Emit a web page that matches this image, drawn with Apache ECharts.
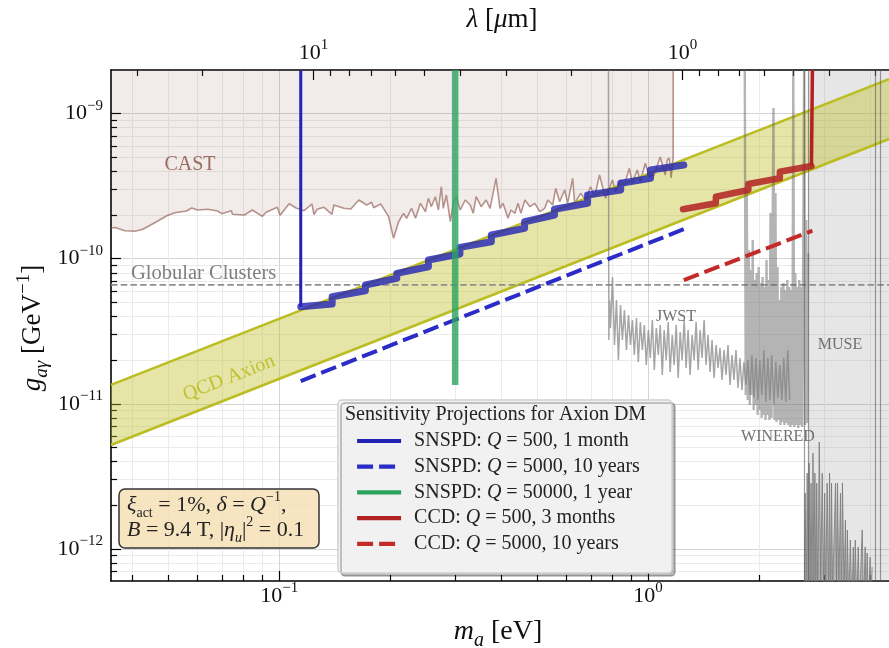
<!DOCTYPE html>
<html>
<head>
<meta charset="utf-8">
<script src="https://cdn.jsdelivr.net/npm/echarts@6.0.0/dist/echarts.min.js"></script>
<style>
html,body{margin:0;padding:0;background:#ffffff;}
#chart{width:889px;height:648px;}
</style>
</head>
<body>
<div id="chart"></div>
<script>
// ---------------- data ----------------
// masses m_a in eV, couplings g in units of 1e-10 GeV^-1 unless noted
const HC = 1.2398;               // eV * um, lambda = HC / m_a
const X_MIN = 0.035, X_MAX = 4.5;
const Y_MIN = 6e-13, Y_MAX = 2e-9;
const G_UNIT = 1e-10;

const xMajorTicks = [0.1, 1];
const xMinorTicks = [0.04, 0.05, 0.06, 0.07, 0.08, 0.09, 0.2, 0.3, 0.4, 0.5, 0.6, 0.7, 0.8, 0.9, 2, 3, 4];
const yMajorTicks = [1e-12, 1e-11, 1e-10, 1e-9];
const yMinorTicks = [7e-13, 8e-13, 9e-13, 2e-12, 3e-12, 4e-12, 5e-12, 6e-12, 7e-12, 8e-12, 9e-12,
  2e-11, 3e-11, 4e-11, 5e-11, 6e-11, 7e-11, 8e-11, 9e-11, 2e-10, 3e-10, 4e-10, 5e-10, 6e-10, 7e-10, 8e-10, 9e-10];
const lamMajorTicks = [1, 10];
const lamMinorTicks = [0.3, 0.4, 0.5, 0.6, 0.7, 0.8, 0.9, 2, 3, 4, 5, 6, 7, 8, 9, 20, 30];

// CAST helioscope limit
const castM = [0.035,0.0359,0.0382,0.0406,0.0427,0.0460,0.0496,0.0521,0.0561,0.0579,0.0601,0.0640,0.0681,0.0698,0.0742,0.0747,0.0805,0.0846,0.0900,0.0922,0.0988,0.1006,0.1064,0.1111,0.1168,0.1227,0.1243,0.1266,0.1323,0.139,0.1407,0.1497,0.1564,0.1644,0.1727,0.1781,0.1803,0.1884,0.1956,0.198,0.2042,0.2107,0.2174,0.2214,0.2285,0.2342,0.2415,0.2491,0.2538,0.2586,0.2651,0.2701,0.2752,0.2786,0.2839,0.2911,0.2965,0.302,0.3096,0.3194,0.3295,0.3357,0.342,0.3528,0.3639,0.3731,0.3872,0.3969,0.4044,0.4171,0.425,0.4357,0.4439,0.4522,0.4636,0.4783,0.4933,0.5088,0.5249,0.5348,0.5515,0.5619,0.576,0.5943,0.6055,0.6246,0.6324,0.6564,0.677,0.6985,0.7161,0.7387,0.7526,0.7668,0.7861,0.8009,0.8159,0.8414,0.8626,0.8898,0.9066,0.9352,0.9528,0.983,1.0075,1.039,1.079,1.113,1.127,1.141,1.155,1.17,1.17];
const castG = [1.63,1.64,1.56,1.545,1.595,1.771,1.979,2.075,2.133,2.236,2.167,2.191,2.133,2.043,2.143,2.024,2.001,2.167,1.96,2.089,2.262,1.992,2.394,2.236,2.143,2.383,2.011,2.191,2.262,2.024,2.346,2.226,2.201,2.54,2.346,2.448,2.247,2.383,2.056,1.948,1.382,1.799,2.056,1.899,2.226,1.899,2.41,2.109,2.609,2.283,2.676,2.167,3.136,2.226,2.749,1.799,2.41,2.676,2.167,2.54,2.346,2.056,2.676,2.283,2.54,2.226,3.584,2.226,2.41,1.899,2.167,2.056,2.41,2.056,2.54,2.283,2.41,2.109,2.226,2.54,2.346,3.058,2.472,2.976,2.41,3.584,2.41,2.824,2.54,3.136,2.676,3.776,3.136,2.609,3.058,3.488,2.897,3.488,3.222,4.2,3.311,4.088,3.395,4.55,3.675,3.776,5.02,3.776,4.79,4.945,3.6,5.0,20];

// QCD axion band (GeV^-1)
const qcdM = [0.035, 4.5];
const qcdUpper = [1.35e-11, 1.73e-9];
const qcdLower = [5.2e-12, 6.69e-10];

// Globular clusters bound (GeV^-1)
const gcM = [0.035, 4.5];
const gcG = 6.6e-11;

// JWST
const jwstM = [0.781,0.783,0.786,0.791,0.801,0.811,0.821,0.831,0.842,0.852,0.863,0.874,0.885,0.896,0.907,0.918,0.930,0.941,0.953,0.965,0.977,0.989,1.002,1.014,1.027,1.040,1.053,1.066,1.079,1.093,1.106,1.120,1.134,1.148,1.163,1.177,1.192,1.207,1.222,1.237,1.253,1.268,1.284,1.300,1.317,1.333,1.350,1.367,1.384,1.401,1.419,1.436,1.454,1.473,1.491,1.510,1.529,1.548,1.567,1.587,1.607,1.627,1.647,1.668,1.689,1.710,1.731,1.753,1.775,1.797,1.819,1.842,1.865,1.888,1.912,1.936,1.960,1.985,2.009,2.035,2.060,2.086,2.112,2.139,2.165,2.193,2.220,2.248,2.276,2.305,2.333,2.363,2.392,2.422];
const jwstG = [20,0.275,0.519,0.333,0.748,0.254,0.519,0.200,0.4795,0.275,0.443,0.2348,0.409,0.254,0.378,0.217,0.390,0.194,0.366,0.2348,0.349,0.185,0.3225,0.2067,0.378,0.1709,0.333,0.217,0.349,0.158,0.3225,0.200,0.366,0.1655,0.298,0.185,0.349,0.1505,0.312,0.200,0.378,0.1764,0.3225,0.158,0.298,0.200,0.366,0.1709,0.3225,0.2067,0.378,0.185,0.298,0.1655,0.275,0.1505,0.254,0.1764,0.242,0.1458,0.2348,0.158,0.254,0.1347,0.217,0.1458,0.2348,0.1284,0.2067,0.1244,0.194,0.1347,0.200,0.1149,0.217,0.1096,0.2067,0.1061,0.200,0.1149,0.2348,0.1028,0.2067,0.1061,0.217,0.098,0.194,0.1096,0.185,0.1061,0.2067,0.1028,0.2348,0.1061];

// WINERED
const wineredM = [1.829,1.840,1.852,1.863,1.875,1.887,1.898,1.910,1.922,1.934,1.946,1.958,1.970,1.982,1.994,2.007,2.019,2.032,2.044,2.057,2.070,2.082,2.095,2.108,2.121,2.134,2.148,2.161,2.174,2.188,2.202,2.215,2.229,2.243,2.257,2.271,2.285,2.299,2.313,2.328,2.342,2.357,2.371,2.386,2.401,2.416,2.430,2.446,2.461,2.476,2.491,2.507,2.522,2.538,2.554,2.569,2.585,2.601,2.617,2.633,2.650,2.666,2.683,2.699,2.716];
const wineredG = [20,0.1149,2.98,0.1061,1.148,0.098,0.836,0.1149,1.346,0.0906,0.713,0.098,0.797,0.0837,0.877,0.0906,0.680,0.0797,0.748,0.0837,0.638,0.0773,0.98,0.0837,0.713,0.0773,2.066,0.0797,1.095,10.92,0.0773,2.838,0.0748,0.877,0.0773,0.519,0.0714,0.638,0.0748,0.680,0.0714,0.608,0.0737,0.713,0.0714,0.638,0.0691,0.608,0.0714,20,0.0691,0.797,0.0714,0.638,0.068,0.713,0.0714,0.638,0.0691,0.98,20,0.0714,1.85,0.0737,1.095];

// MUSE
const museBand = [2.72, 4.5];
const museEdges = [2.65, 2.72, 4.13, 4.26];
const museM = [2.650,2.667,2.683,2.700,2.717,2.733,2.750,2.766,2.783,2.800,2.816,2.833,2.850,2.867,2.885,2.912,2.939,2.966,2.994,3.012,3.030,3.058,3.087,3.105,3.125,3.144,3.164,3.19,3.223,3.243,3.263,3.29,3.324,3.345,3.365,3.40,3.428,3.45,3.470,3.50,3.535,3.57,3.602,3.62,3.646,3.68,3.714,3.74,3.807,3.84,3.878,3.90,3.926,3.96,4.000,4.02,4.049];
const museG = [0.003,0.0242,0.004,0.0333,0.005,0.039,0.006,0.0284,0.004,0.0457,0.006,0.0333,0.005,0.0284,0.004,0.0545,0.006,0.0333,0.005,0.0242,0.004,0.0284,0.005,0.0333,0.004,0.0284,0.005,0.005,0.0284,0.006,0.0284,0.005,0.0242,0.004,0.0284,0.005,0.0158,0.004,0.01348,0.004,0.0115,0.004,0.0103,0.004,0.0115,0.004,0.0103,0.004,0.01348,0.004,0.0103,0.004,0.00935,0.004,0.00878,0.004,0.0075];

// Sensitivity projections
const snspd1M = [0.1144,0.1144,0.1392,0.1392,0.1713,0.1713,0.2084,0.2084,0.2538,0.2538,0.309,0.309,0.376,0.376,0.4627,0.4627,0.5575,0.5575,0.6855,0.6855,0.843,0.843,1.0155,1.0155,1.25];
const snspd1G = [20,0.4667,0.4871,0.547,0.6016,0.659,0.7326,0.7932,0.8807,0.9795,1.077,1.198,1.31,1.457,1.62,1.799,2.001,2.191,2.41,2.749,2.976,3.311,3.584,4.088,4.426];
const snspd2M = [0.1144, 1.252];
const snspd2G = [0.1435, 1.602];
const snspd3M = [0.3, 0.3];
const snspd3G = [20, 0.1347];
const ccd1M = [1.244,1.527,1.527,1.871,1.871,2.277,2.277,2.773,2.79,2.79];
const ccd1G = [2.191,2.41,2.676,2.976,3.273,3.584,3.98,4.356,4.356,20];
const ccd2M = [1.25, 2.79];
const ccd2G = [0.713, 1.56];

const NAMES = ['SNSPD: Q = 500, 1 month', 'SNSPD: Q = 5000, 10 years', 'SNSPD: Q = 50000, 1 year',
  'CCD: Q = 500, 3 months', 'CCD: Q = 5000, 10 years'];

// ---------------- helpers ----------------
const FONT = '"Liberation Serif", "DejaVu Serif", serif';
function pts(ms, gs, unit) { const n = Math.min(ms.length, gs.length); const out = []; for (let i = 0; i < n; i++) out.push([ms[i], gs[i] * unit]); return out; }
function expLabel(v) { const e = Math.round(Math.log10(v)); return '{b|10}{s|' + (e < 0 ? '\u2212' + (-e) : String(e)) + '}'; }
const tickRich = {
  b: {fontFamily: FONT, fontSize: 22, color: '#111', lineHeight: 30},
  s: {fontFamily: FONT, fontSize: 15, color: '#111', verticalAlign: 'top'}
};
function gRich(size, small, color) {
  const lh = Math.round(size * 1.35);
  return {
    n: {fontFamily: FONT, fontSize: size, fill: color, lineHeight: lh},
    i: {fontFamily: FONT, fontSize: size, fill: color, lineHeight: lh, fontStyle: 'italic'},
    sub: {fontFamily: FONT, fontSize: small, fill: color, verticalAlign: 'bottom'},
    subi: {fontFamily: FONT, fontSize: small, fill: color, verticalAlign: 'bottom', fontStyle: 'italic'},
    sup: {fontFamily: FONT, fontSize: small, fill: color, verticalAlign: 'top'}
  };
}
function gText(x, y, text, opts) {
  return Object.assign({type: 'text', x: x, y: y, silent: true, z: 25,
    style: Object.assign({text: text, fontFamily: FONT, fontSize: 19, fill: '#222', align: 'center', verticalAlign: 'middle'}, opts.style || {})},
    opts.el || {});
}
function logAxisX(extra) {
  return Object.assign({type: 'log', min: X_MIN, max: X_MAX, logBase: 10, axisPointer: {show: false}}, extra);
}

const chart = echarts.init(document.getElementById('chart'), null, {renderer: 'canvas'});

const lineBase = {type: 'line', symbol: 'none', silent: true, xAxisIndex: 0, yAxisIndex: 0, animation: false, clip: true};
function lineSeries(name, data, style, extra) {
  return Object.assign({}, lineBase, {name: name, data: data, lineStyle: style}, extra || {});
}

const series = [
  lineSeries('CAST', pts(castM, castG, G_UNIT), {color: 'rgba(140,86,75,0.62)', width: 1.6},
    {areaStyle: {origin: 'end', color: 'rgba(140,86,75,0.17)'}, z: 1}),
  {type: 'custom', name: 'QCD band', silent: true, xAxisIndex: 0, yAxisIndex: 0, z: 1, clip: true,
    data: [[1, 1e-10]],
    renderItem: function (params, api) {
      const p = [];
      for (let i = 0; i < qcdM.length; i++) p.push(api.coord([qcdM[i], qcdUpper[i]]));
      for (let i = qcdM.length - 1; i >= 0; i--) p.push(api.coord([qcdM[i], qcdLower[i]]));
      return {type: 'polygon', shape: {points: p}, style: {fill: 'rgba(188,189,34,0.4)'}};
    }},
  lineSeries('QCD upper', pts(qcdM, qcdUpper, 1), {color: '#bcbd22', width: 2.6}, {z: 2}),
  lineSeries('QCD lower', pts(qcdM, qcdLower, 1), {color: '#bcbd22', width: 2.6}, {z: 2}),
  lineSeries('Globular Clusters', gcM.map(m => [m, gcG]), {color: '#8f8f8f', width: 1.6, type: [6.5, 3.2]}, {z: 2}),
  lineSeries('MUSE', pts(museM, museG, G_UNIT), {color: 'rgba(120,120,120,0.8)', width: 1},
    {areaStyle: {origin: 'start', color: 'rgba(120,120,120,0.65)'}, z: 2,
     markArea: {silent: true, itemStyle: {color: 'rgba(128,128,128,0.2)'},
       data: [[{xAxis: museBand[0], yAxis: Y_MIN}, {xAxis: museBand[1], yAxis: Y_MAX}]]},
     markLine: {silent: true, symbol: ['none', 'none'], label: {show: false},
       lineStyle: {color: 'rgba(90,90,90,0.6)', width: 1.2, type: 'solid'},
       data: museEdges.map(v => ({xAxis: v}))}}),
  lineSeries('WINERED', pts(wineredM, wineredG, G_UNIT), {color: 'rgba(105,105,105,0.5)', width: 2.4}, {z: 2}),
  lineSeries('JWST', pts(jwstM, jwstG, G_UNIT), {color: 'rgba(128,128,128,0.7)', width: 1.5}, {z: 2}),
  lineSeries(NAMES[0], pts(snspd1M.slice(0, 2), snspd1G.slice(0, 2), G_UNIT), {color: '#2222b5', width: 3}, {z: 5}),
  lineSeries(NAMES[0], pts(snspd1M.slice(1), snspd1G.slice(1), G_UNIT), {color: '#2222b5', width: 7, opacity: 0.8, cap: 'round', join: 'round'}, {z: 5}),
  lineSeries(NAMES[1], pts(snspd2M, snspd2G, G_UNIT), {color: '#2b2bc8', width: 4, type: [16, 6]}, {z: 5}),
  lineSeries(NAMES[2], pts(snspd3M, snspd3G, G_UNIT), {color: '#2ca25f', width: 6.5, opacity: 0.8}, {z: 5}),
  lineSeries(NAMES[3], pts(ccd1M.slice(7), ccd1G.slice(7), G_UNIT), {color: '#b22222', width: 3.5}, {z: 5}),
  lineSeries(NAMES[3], pts(ccd1M.slice(0, 8), ccd1G.slice(0, 8), G_UNIT), {color: '#b22222', width: 6.5, opacity: 0.85, cap: 'round', join: 'round'}, {z: 5}),
  lineSeries(NAMES[4], pts(ccd2M, ccd2G, G_UNIT), {color: '#c42a2a', width: 4, type: [16, 6]}, {z: 5})
];

const tickLine = {color: '#000', width: 1.2};
const option = {
  animation: false,
  backgroundColor: '#ffffff',
  textStyle: {fontFamily: FONT},
  grid: {left: 111, top: 70, right: -4, bottom: 67, containLabel: false},
  xAxis: [
    logAxisX({position: 'bottom',
      axisLine: {show: true, onZero: false, lineStyle: {color: '#000', width: 1.6}},
      axisTick: {show: true, inside: true, length: 10, customValues: xMajorTicks, lineStyle: tickLine},
      axisLabel: {show: true, customValues: xMajorTicks, formatter: expLabel, margin: 0, rich: tickRich},
      splitLine: {show: true, lineStyle: {color: '#d4d4d4', width: 1}}}),
    logAxisX({position: 'bottom',
      axisLine: {show: false, onZero: false},
      axisTick: {show: true, inside: true, length: 6, customValues: xMinorTicks, lineStyle: tickLine},
      axisLabel: {show: false},
      splitLine: {show: true, lineStyle: {color: '#ebebeb', width: 1}}}),
    {type: 'log', position: 'top', inverse: true, min: HC / X_MAX, max: HC / X_MIN,
      axisLine: {show: true, onZero: false, lineStyle: {color: '#000', width: 1.6}},
      axisTick: {show: true, inside: true, length: 10, customValues: lamMajorTicks, lineStyle: tickLine},
      axisLabel: {show: true, customValues: lamMajorTicks, formatter: expLabel, margin: 2, rich: tickRich},
      splitLine: {show: false}},
    {type: 'log', position: 'top', inverse: true, min: HC / X_MAX, max: HC / X_MIN,
      axisLine: {show: false, onZero: false},
      axisTick: {show: true, inside: true, length: 6, customValues: lamMinorTicks, lineStyle: tickLine},
      axisLabel: {show: false}, splitLine: {show: false}}
  ],
  yAxis: [
    {type: 'log', position: 'left', min: Y_MIN, max: Y_MAX,
      axisLine: {show: true, onZero: false, lineStyle: {color: '#000', width: 1.6}},
      axisTick: {show: true, inside: true, length: 10, customValues: yMajorTicks, lineStyle: tickLine},
      axisLabel: {show: true, customValues: yMajorTicks, formatter: expLabel, margin: 8, rich: tickRich},
      splitLine: {show: true, lineStyle: {color: '#d4d4d4', width: 1}}},
    {type: 'log', position: 'left', min: Y_MIN, max: Y_MAX,
      axisLine: {show: false, onZero: false},
      axisTick: {show: true, inside: true, length: 6, customValues: yMinorTicks, lineStyle: tickLine},
      axisLabel: {show: false},
      splitLine: {show: true, lineStyle: {color: '#ebebeb', width: 1}}}
  ],
  legend: {
    show: true, selectedMode: false, orient: 'vertical', left: 338, top: 400, z: 20,
    padding: [31, 10, 8, 17], itemGap: 5.7, itemWidth: 44, itemHeight: 14,
    lineStyle: {width: 4.2, opacity: 1}, itemStyle: {opacity: 0},
    data: NAMES,
    formatter: function (name) {
      const k = name.indexOf(' Q ');
      return '{f|' + name.slice(0, k + 1) + '}{i|Q}{n|' + name.slice(k + 2) + '}';
    },
    textStyle: {fontFamily: FONT, fontSize: 20, color: '#222',
      rich: {
        f: {fontFamily: FONT, fontSize: 20, color: '#222', lineHeight: 22, padding: [0, 0, 0, 8]},
        n: {fontFamily: FONT, fontSize: 20, color: '#222', lineHeight: 22},
        i: {fontFamily: FONT, fontSize: 20, color: '#222', lineHeight: 22, fontStyle: 'italic'}
      }}
  },
  graphic: {elements: [
    // legend box and title
    {type: 'rect', silent: true, z: 15, shape: {x: 338, y: 400, width: 334, height: 173, r: 4},
      style: {fill: 'rgba(243,243,243,0.96)', stroke: '#cfcfcf', lineWidth: 1.5,
        shadowBlur: 0, shadowOffsetX: 3, shadowOffsetY: 3, shadowColor: 'rgba(0,0,0,0.28)'}},
    gText(345, 415, 'Sensitivity Projections for Axion DM', {style: {align: 'left', fontSize: 20}}),
    // parameter box
    {type: 'rect', silent: true, z: 15, shape: {x: 119, y: 489, width: 200, height: 59, r: 6},
      style: {fill: 'rgba(245,222,179,0.8)', stroke: '#333', lineWidth: 1.5}},
    gText(127, 505, '{i|\u03be}{sub|act}{n| = 1%, }{i|\u03b4}{n| = }{i|Q}{sup|\u22121}{n|,}',
      {style: {align: 'left', rich: gRich(22, 14, '#222')}}),
    gText(127, 530, '{i|B}{n| = 9.4 T, |}{i|\u03b7}{subi|u}{n||}{sup|2}{n| = 0.1}',
      {style: {align: 'left', rich: gRich(22, 14, '#222')}}),
    // axis titles
    gText(498, 632, '{i|m}{subi|a}{n| [eV]}', {style: {rich: gRich(28, 20, '#111')}}),
    gText(502, 20, '{i|\u03bb}{n| [}{i|\u03bc}{n|m]}', {style: {rich: gRich(27, 19, '#111')}}),
    gText(33, 328, '{i|g}{subi|a\u03b3}{n| [GeV}{sup|\u22121}{n|]}', {style: {rich: gRich(27, 19, '#111')}, el: {rotation: Math.PI / 2}}),
    // annotations
    gText(190, 165, 'CAST', {style: {fontSize: 20, fill: '#9b6b60'}}),
    gText(131, 274, 'Globular Clusters', {style: {align: 'left', fontSize: 20.5, fill: '#7f7f7f'}}),
    gText(229, 378, 'QCD Axion', {style: {fontSize: 20, fill: 'rgba(188,189,34,0.9)'}, el: {rotation: 0.374}}),
    gText(676, 317, 'JWST', {style: {fontSize: 16, fill: '#707070'}}),
    gText(778, 437, 'WINERED', {style: {fontSize: 16, fill: '#707070'}}),
    gText(840, 345, 'MUSE', {style: {fontSize: 16, fill: '#707070'}})
  ]},
  series: series
};
chart.setOption(option);
</script>
</body>
</html>
